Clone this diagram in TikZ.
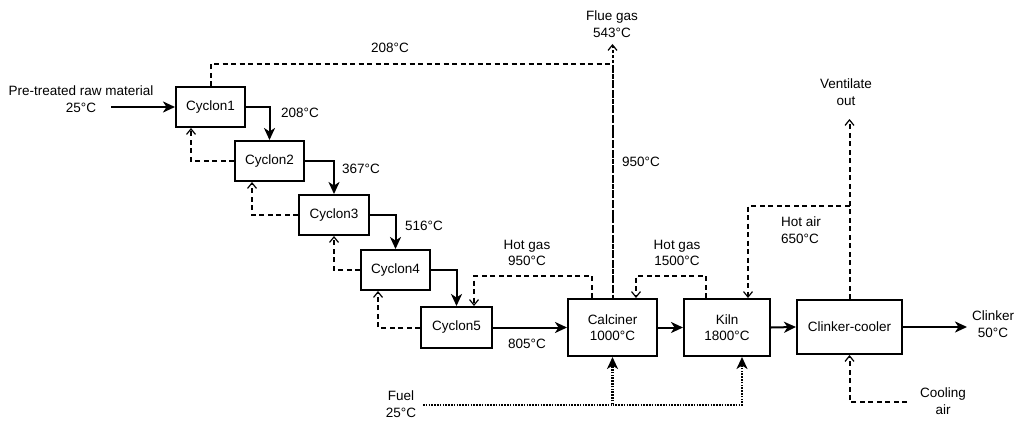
\documentclass[tikz,border=0pt]{standalone}
\usepackage{fontspec}
\setmainfont{Liberation Sans}
\usetikzlibrary{arrows.meta}
\newcommand\lblfont{\fontsize{13.5}{16.5}\selectfont}
\begin{document}
\begin{tikzpicture}[x=1pt,y=-1pt,
  box/.style={draw,line width=2pt,inner sep=0pt,align=center,font=\lblfont},
  txt/.style={inner sep=0pt,align=center,font=\lblfont},
  flow/.style={line width=2pt,-{Stealth[length=12pt,width=11pt,inset=3.5pt]}},
  ret/.style={line width=2pt,dash pattern=on 5pt off 3.5pt,-{Straight Barb[length=5.5pt,width=9pt,line width=1.2pt]}},
  gasline/.style={line width=2pt,dash pattern=on 5pt off 3.5pt},
  fuel/.style={line width=2.2pt,dash pattern=on 1.6pt off 1.2pt,-{Stealth[length=12pt,width=11pt,inset=3.5pt]}}
]
\useasboundingbox (0,0) rectangle (1016,420);

% boxes
\node[box,minimum width=69pt,minimum height=40pt] (c1) at (210.5,107) {Cyclon1};
\node[box,minimum width=69pt,minimum height=40pt] (c2) at (269.5,161) {Cyclon2};
\node[box,minimum width=70pt,minimum height=40pt] (c3) at (334,215) {Cyclon3};
\node[box,minimum width=69pt,minimum height=40pt] (c4) at (395.5,270) {Cyclon4};
\node[box,minimum width=71pt,minimum height=41pt] (c5) at (456.5,327.5) {Cyclon5};
\node[box,minimum width=89pt,minimum height=57pt] (calc) at (612.5,327.5) {Calciner\\1000°C};
\node[box,minimum width=86pt,minimum height=57pt] (kiln) at (727,327.5) {Kiln\\1800°C};
\node[box,minimum width=105pt,minimum height=54pt] (cool) at (849.5,327) {Clinker-cooler};

% text labels
\node[txt] (raw) at (81,99) {Pre-treated raw material\\25°C};
\node[txt] (t208a) at (300,113) {208°C};
\node[txt] (t367) at (361,169) {367°C};
\node[txt] (t516) at (424,226) {516°C};
\node[txt] (t805) at (527,344) {805°C};
\node[txt] (hg950) at (527,253) {Hot gas\\950°C};
\node[txt] (hg1500) at (677,253) {Hot gas\\1500°C};
\node[txt,align=left,anchor=west] (ha) at (781,230) {Hot air\\650°C};
\node[txt] (t950) at (641,162) {950°C};
\node[txt] (flue) at (612,24) {Flue gas\\543°C};
\node[txt] (t208b) at (390,48) {208°C};
\node[txt] (vent) at (846,92) {Ventilate\\out};
\node[txt] (clk) at (993,324) {Clinker\\50°C};
\node[txt] (cair) at (943,401) {Cooling\\air};
\node[txt] (fuellbl) at (401,404) {Fuel\\25°C};

% coordinates
\coordinate (in) at (111,107);
\coordinate (flueend) at (612.5,44);
\coordinate (ventend) at (849.5,119);
\coordinate (hab) at (849.5,206);
\coordinate (caend) at (907,402);
\coordinate (f0) at (423,405);
\coordinate (out) at (967,327);

% material flow
\draw[flow] (in) -- (c1.west);
\draw[flow] (c1.east) -| (c2.north);
\draw[flow] (c2.east) -| (c3.north);
\draw[flow] (c3.east) -| (c4.north);
\draw[flow] (c4.east) -| (c5.north);
\draw[flow] (c5.east) -- (calc.west);
\draw[flow] (calc.east) -- (kiln.west);
\draw[flow] (kiln.east) -- (cool.west);
\draw[flow] (cool.east) -- (out);

% gas returns between cyclones
\draw[ret] (c2.west) -| ([xshift=16pt]c1.south west);
\draw[ret] (c3.west) -| ([xshift=18pt]c2.south west);
\draw[ret] (c4.west) -| (c3.south);
\draw[ret] (c5.west) -| ([xshift=18pt]c4.south west);

% hot gas
\draw[ret] ([xshift=-20.5pt]calc.north) -- ++(0,-22) -| ([xshift=17.5pt]c5.north);
\draw[ret] ([xshift=-21pt]kiln.north) -- ++(0,-22) -| ([xshift=23.5pt]calc.north);

% flue gas
\draw[gasline] (c1.north) -- ++(0,-22) -| (calc.north);
\draw[ret,dash pattern=on 3pt off 2pt] (calc.north) -- (flueend);

% hot air
\draw[ret] (cool.north) -- (ventend);
\draw[ret] (hab) -| ([xshift=21pt]kiln.north);
\draw[ret] (caend) -| (cool.south);

% fuel
\draw[fuel] (f0) -| (calc.south);
\draw[fuel] (calc.south |- f0) -| ([xshift=15pt]kiln.south);
\end{tikzpicture}
\end{document}
